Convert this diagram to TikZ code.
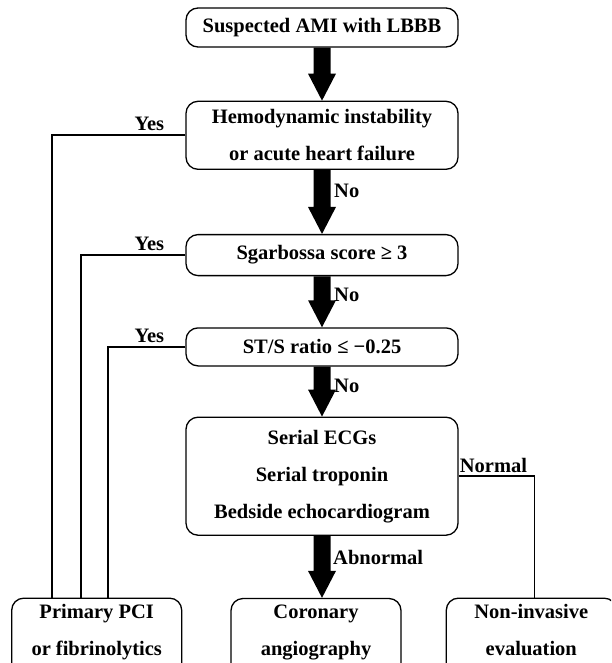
\documentclass[tikz,border=0pt]{standalone}
\usepackage{fontspec}
\setmainfont{Liberation Serif}
\usepackage{tikz}
\usetikzlibrary{positioning,calc}
\tikzset{
    %Define style for boxes
    box/.style={
           rectangle,
           rounded corners=12pt,
           draw=black, line width=1.3pt,
           minimum width=272pt,
           minimum height=40pt,
           inner ysep=6pt,
           align=center,
           font=\fontsize{20.5}{37}\selectfont\bfseries,
           },
    endbox/.style={
           box,
           minimum width=170pt,
           minimum height=74pt,
           text depth=14pt,
           },
    % Define label style
    lbl/.style={
           inner sep=1pt,
           font=\fontsize{20.5}{24}\selectfont\bfseries,
           },
    % Define line style
    conn/.style={
           line width=1.6pt,
           }
}
% thick block arrow between two nodes
\newcommand{\bigarrow}[2]{%
  \fill let \p1=(#1.south), \p2=(#2.north) in
    (\x1-8.5pt,\y1) -- (\x1-8.5pt,\y2+27pt) -- (\x1-14pt,\y2+27pt) -- (\x1,\y2)
    -- (\x1+14pt,\y2+27pt) -- (\x1+8.5pt,\y2+27pt) -- (\x1+8.5pt,\y1) -- cycle;}

\begin{document}
\begin{tikzpicture}[x=1pt,y=-1pt]
\useasboundingbox (0,0) rectangle (611,663);
\clip (0,0) rectangle (611,663);

 %nodes
\node[box, minimum height=39pt](start) at (322,27.5){Suspected AMI with LBBB};
\node[box, minimum height=68pt, below=53pt of start](hemo){Hemodynamic instability\\or acute heart failure};
\node[box, minimum height=41pt, below=64pt of hemo](sgar){Sgarbossa score ≥ 3};
\node[box, minimum height=38pt, below=51pt of sgar](ratio){ST/S ratio ≤ −0.25};
\node[box, minimum height=118pt, below=50pt of ratio](serial){Serial ECGs\\Serial troponin\\Bedside echocardiogram};
\node[endbox, below=62pt of serial, xshift=-6pt](coro){Coronary\\angiography};
\node[endbox, left=48pt of coro](primary){Primary PCI\\or fibrinolytics};
\node[endbox, right=44pt of coro](noninv){Non-invasive\\evaluation};

 %block arrows
\bigarrow{start}{hemo}
\bigarrow{hemo}{sgar}
\bigarrow{sgar}{ratio}
\bigarrow{ratio}{serial}
\bigarrow{serial}{coro}

 %labels
\node[lbl, anchor=west](no1) at ([xshift=11pt,yshift=-21pt]hemo.south){No};
\node[lbl, anchor=west](no2) at ([xshift=11pt,yshift=-19pt]sgar.south){No};
\node[lbl, anchor=west](no3) at ([xshift=11pt,yshift=-19pt]ratio.south){No};
\node[lbl, anchor=west](abn) at ([xshift=10pt,yshift=-22pt]serial.south){Abnormal};
\node[lbl](yes1) at ([xshift=-36pt,yshift=11pt]hemo.west){Yes};
\node[lbl](yes2) at ([xshift=-36pt,yshift=11pt]sgar.west){Yes};
\node[lbl](yes3) at ([xshift=-36pt,yshift=11pt]ratio.west){Yes};
\node[lbl, anchor=west](normal) at ([yshift=11pt]serial.east){Normal};

 %connectors
\draw[conn] (hemo.west) -| ([xshift=41pt]primary.north west);
\draw[conn] (sgar.west) -| ([xshift=70pt]primary.north west);
\draw[conn] (ratio.west) -| ([xshift=97pt]primary.north west);
\draw[conn] (serial.east) -| ([xshift=3pt]noninv.north);

\end{tikzpicture}
\end{document}
